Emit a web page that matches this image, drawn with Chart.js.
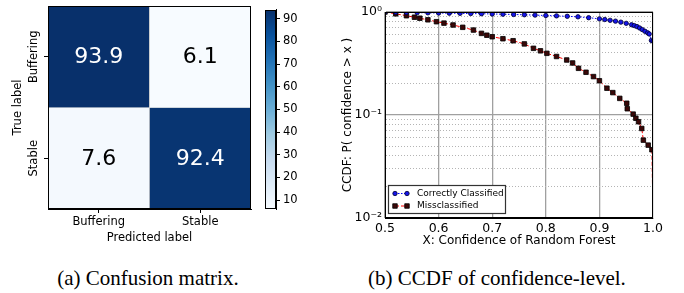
<!DOCTYPE html>
<html>
<head>
<meta charset="utf-8">
<script src="https://cdn.jsdelivr.net/npm/chart.js@4.4.1/dist/chart.umd.min.js"></script>
<style>
  html, body { margin: 0; padding: 0; background: #fff; }
  body { width: 684px; height: 293px; position: relative; overflow: hidden; }
  .box { position: absolute; }
  .cap { position: absolute; top: 266px; font-family: "Liberation Serif", "DejaVu Serif", serif; font-size: 21px; color: #000; white-space: nowrap; transform: translateX(-50%); }
</style>
</head>
<body>
<div class="box" style="left:0;top:0;width:258px;height:250px"><canvas id="cm"></canvas></div>
<div class="box" style="left:255px;top:0;width:55px;height:250px"><canvas id="cbar"></canvas></div>
<div class="box" style="left:340px;top:0;width:344px;height:250px"><canvas id="ccdf"></canvas></div>
<div class="cap" style="left:148px">(a) Confusion matrix.</div>
<div class="cap" style="left:497px">(b) CCDF of confidence-level.</div>
<script>
// ---- data ----
const predLabels = ['Buffering', 'Stable'];
const trueLabels = ['Buffering', 'Stable'];
const rowBuffering = [93.9, 6.1];
const rowStable = [7.6, 92.4];
const cbarMin = 6.1, cbarMax = 93.9;
const cbarTicks = [10, 20, 30, 40, 50, 60, 70, 80, 90];

const xTicks = [0.5, 0.6, 0.7, 0.8, 0.9, 1.0];
const correctX = [0.50, 0.52, 0.54, 0.56, 0.58, 0.60, 0.62, 0.64, 0.66, 0.68, 0.70, 0.72, 0.74, 0.76, 0.78,
  0.80, 0.82, 0.84, 0.86, 0.88, 0.90, 0.91, 0.92, 0.93, 0.94, 0.95, 0.96, 0.965, 0.97, 0.975, 0.98, 0.985,
  0.99, 0.993, 0.997, 1.0, 1.0];
const correctY = [1.00, 0.995, 0.99, 0.986, 0.982, 0.978, 0.974, 0.970, 0.966, 0.962, 0.957, 0.952, 0.946, 0.940, 0.933,
  0.925, 0.917, 0.908, 0.898, 0.880, 0.858, 0.845, 0.830, 0.815, 0.797, 0.776, 0.752, 0.738, 0.722, 0.700, 0.675, 0.650,
  0.628, 0.612, 0.530, 0.522, 0.01];
const missX = [0.50, 0.52, 0.54, 0.555, 0.565, 0.58, 0.596, 0.61, 0.627, 0.645, 0.665, 0.68, 0.69, 0.70, 0.72,
  0.739, 0.76, 0.777, 0.79, 0.802, 0.82, 0.839, 0.85, 0.861, 0.875, 0.889, 0.90, 0.914, 0.925, 0.938, 0.951,
  0.952, 0.963, 0.968, 0.973, 0.979, 0.982, 0.991, 0.998, 1.0];
const missY = [1.00, 0.96, 0.92, 0.89, 0.87, 0.84, 0.805, 0.78, 0.748, 0.71, 0.668, 0.62, 0.595, 0.575, 0.55,
  0.526, 0.49, 0.444, 0.42, 0.397, 0.37, 0.342, 0.32, 0.284, 0.26, 0.236, 0.215, 0.182, 0.165, 0.145, 0.13,
  0.115, 0.102, 0.093, 0.086, 0.074, 0.057, 0.051, 0.046, 0.01];

// ---- helpers ----
const blueStops = ['#f7fbff', '#deebf7', '#c6dbef', '#9ecae1', '#6baed6', '#4292c6', '#2171b5', '#08519c', '#08306b'];
function hexRgb(h) { return [1, 3, 5].map(i => parseInt(h.substr(i, 2), 16)); }
function blues(v) {
  let t = (v - cbarMin) / (cbarMax - cbarMin);
  t = Math.max(0, Math.min(1, t)) * (blueStops.length - 1);
  const i = Math.min(Math.floor(t), blueStops.length - 2), f = t - i;
  const a = hexRgb(blueStops[i]), b = hexRgb(blueStops[i + 1]);
  return 'rgb(' + a.map((c, k) => Math.round(c + (b[k] - c) * f)).join(',') + ')';
}
const sansFont = '"DejaVu Sans", Verdana, sans-serif';

// black box round the plot area, like matplotlib
const frame = {
  id: 'frame',
  afterDraw(chart) {
    const { ctx, chartArea: a } = chart;
    ctx.save();
    ctx.strokeStyle = '#000';
    ctx.lineWidth = 1;
    ctx.strokeRect(Math.round(a.left) + 0.5, Math.round(a.top) + 0.5, Math.round(a.right - a.left) - 1, Math.round(a.bottom - a.top) - 1);
    ctx.restore();
  }
};

// ---- confusion matrix ----
const cellText = {
  id: 'cellText',
  afterDatasetsDraw(chart) {
    const { ctx } = chart;
    const rows = [rowBuffering, rowStable];
    ctx.save();
    ctx.font = '22px ' + sansFont;
    ctx.textAlign = 'center';
    ctx.textBaseline = 'middle';
    chart.data.datasets.forEach((ds, di) => {
      chart.getDatasetMeta(di).data.forEach((bar, i) => {
        const v = rows[di][i];
        ctx.fillStyle = v > 50 ? '#fff' : '#000';
        ctx.fillText(v.toFixed(1), bar.x, (bar.y + bar.base) / 2 + 1);
      });
    });
    // row labels, rotated
    const y = chart.scales.y;
    ctx.font = '11.5px ' + sansFont;
    ctx.fillStyle = '#000';
    ctx.textBaseline = 'bottom';
    [[1.5, trueLabels[0]], [0.5, trueLabels[1]]].forEach(([v, t]) => {
      ctx.save();
      ctx.translate(chart.chartArea.left - 8, y.getPixelForValue(v));
      ctx.rotate(-Math.PI / 2);
      ctx.fillText(t, 0, 0);
      ctx.restore();
    });
    ctx.restore();
  }
};

new Chart(document.getElementById('cm'), {
  type: 'bar',
  data: {
    labels: predLabels,
    datasets: [
      { label: trueLabels[0], data: rowBuffering.map(() => [1, 2]), backgroundColor: rowBuffering.map(blues) },
      { label: trueLabels[1], data: rowStable.map(() => [0, 1]), backgroundColor: rowStable.map(blues) }
    ]
  },
  options: {
    responsive: true,
    maintainAspectRatio: false,
    animation: false,
    layout: { padding: { top: 6, right: 7, left: 0, bottom: 0 } },
    datasets: { bar: { grouped: false, barPercentage: 1, categoryPercentage: 1, borderColor: '#c8c8c8', borderWidth: 0.6 } },
    plugins: { legend: { display: false }, tooltip: { enabled: false } },
    scales: {
      x: {
        grid: { offset: false, drawOnChartArea: false, tickLength: 4, color: '#000' },
        border: { color: '#000' },
        ticks: { color: '#000', padding: 2, font: { family: sansFont, size: 11.5 } },
        title: { display: true, text: 'Predicted label', color: '#000', padding: { top: 0, bottom: 5 }, font: { family: sansFont, size: 11.5 } },
        afterFit: s => { s.height = 41; }
      },
      y: {
        min: 0, max: 2,
        afterBuildTicks: s => { s.ticks = [{ value: 0.5 }, { value: 1.5 }]; },
        grid: { drawOnChartArea: false, tickLength: 4, color: '#000' },
        border: { color: '#000' },
        ticks: { display: false },
        title: { display: true, text: 'True label', color: '#000', padding: { top: 11, bottom: 0 }, font: { family: sansFont, size: 11.5 } },
        afterFit: s => { s.width = 48; }
      }
    }
  },
  plugins: [cellText, frame]
});

// ---- colorbar ----
new Chart(document.getElementById('cbar'), {
  type: 'bar',
  data: {
    labels: [''],
    datasets: [{
      data: [[cbarMin, cbarMax]],
      backgroundColor: c => {
        const a = c.chart.chartArea;
        if (!a) return blueStops[4];
        const g = c.chart.ctx.createLinearGradient(0, a.bottom, 0, a.top);
        blueStops.forEach((s, i) => g.addColorStop(i / (blueStops.length - 1), s));
        return g;
      },
      barPercentage: 1, categoryPercentage: 1
    }]
  },
  options: {
    responsive: true,
    maintainAspectRatio: false,
    animation: false,
    layout: { padding: { top: 6, right: 0, left: 10, bottom: 41 } },
    plugins: { legend: { display: false }, tooltip: { enabled: false } },
    scales: {
      x: { display: false },
      y: {
        position: 'right',
        min: cbarMin, max: cbarMax,
        afterBuildTicks: s => { s.ticks = cbarTicks.map(v => ({ value: v })); },
        grid: { drawOnChartArea: false, tickLength: 4, color: '#000' },
        border: { color: '#000' },
        ticks: { color: '#000', padding: 3, font: { family: sansFont, size: 11.5 } },
        afterFit: s => { s.width = 34; }
      }
    }
  },
  plugins: [frame]
});

// ---- CCDF ----
const yGrid = [];
[-2, -1].forEach(e => { for (let k = 1; k <= 9; k++) yGrid.push(Number((k * Math.pow(10, e)).toPrecision(3))); });
yGrid.push(1);
const sup = { '0': '\u2070', '1': '\u00b9', '2': '\u00b2', '-': '\u207b' };
function isDecade(v) { const e = Math.log10(v); return Math.abs(e - Math.round(e)) < 1e-9; }

// legend box in the lower left corner of the plot
const legendBox = {
  id: 'legendBox',
  afterDraw(chart) {
    const { ctx, chartArea: a } = chart;
    const x0 = Math.round(a.left) + 3, y0 = Math.round(a.bottom) - 33, w = 117, h = 28;
    ctx.save();
    ctx.fillStyle = '#fff';
    ctx.fillRect(x0, y0, w, h);
    ctx.strokeStyle = '#333';
    ctx.lineWidth = 1.2;
    ctx.strokeRect(x0 + 0.5, y0 + 0.5, w, h);
    ctx.font = '9px ' + sansFont;
    ctx.textBaseline = 'middle';
    chart.data.datasets.forEach((ds, i) => {
      const cy = y0 + 8.5 + i * 12.5;
      ctx.strokeStyle = ds.borderColor;
      ctx.lineWidth = 1;
      ctx.setLineDash(ds.borderDash);
      ctx.beginPath(); ctx.moveTo(x0 + 7, cy); ctx.lineTo(x0 + 19, cy); ctx.stroke();
      ctx.setLineDash([]);
      ctx.fillStyle = ds.pointBackgroundColor;
      ctx.strokeStyle = ds.pointBorderColor;
      ctx.lineWidth = ds.pointBorderWidth;
      [x0 + 7, x0 + 19].forEach(px => {
        Chart.helpers.drawPoint(ctx, { pointStyle: ds.pointStyle, radius: ds.pointStyle === 'rect' ? 3.2 : 2.2, borderWidth: ds.pointBorderWidth }, px, cy);
      });
      ctx.fillStyle = '#000';
      ctx.fillText(ds.label, x0 + 29, cy);
    });
    ctx.restore();
  }
};

new Chart(document.getElementById('ccdf'), {
  type: 'scatter',
  data: {
    datasets: [
      {
        label: 'Correctly Classified',
        data: correctX.map((x, i) => ({ x, y: correctY[i] })),
        showLine: true,
        borderColor: '#0000ff', borderWidth: 1, borderDash: [1.5, 1.5],
        pointStyle: 'circle',
        pointRadius: c => (c.raw && c.raw.y <= 0.01 ? 0 : 2.2),
        pointBackgroundColor: '#1515e8', pointBorderColor: '#000030', pointBorderWidth: 0.8
      },
      {
        label: 'Missclassified',
        data: missX.map((x, i) => ({ x, y: missY[i] })),
        showLine: true,
        borderColor: '#ff0000', borderWidth: 1, borderDash: [4, 2],
        pointStyle: 'rect',
        pointRadius: c => (c.raw && c.raw.y <= 0.01 ? 0 : 3.2),
        pointBackgroundColor: '#3a0808', pointBorderColor: '#000', pointBorderWidth: 0.8
      }
    ]
  },
  options: {
    responsive: true,
    maintainAspectRatio: false,
    animation: false,
    layout: { padding: { top: 12, right: 31, left: 0, bottom: 0 } },
    plugins: { legend: { display: false }, tooltip: { enabled: false } },
    scales: {
      x: {
        type: 'linear', min: 0.5, max: 1.0,
        afterBuildTicks: s => { s.ticks = xTicks.map(v => ({ value: v })); },
        grid: { color: '#a0a0a0', lineWidth: 1.3, drawTicks: false },
        border: { color: '#000' },
        ticks: { color: '#000', padding: 3, font: { family: sansFont, size: 12.5 }, callback: v => v.toFixed(1) },
        title: { display: true, text: 'X: Confidence of Random Forest', color: '#000', padding: { top: 0, bottom: 2 }, font: { family: sansFont, size: 12 } },
        afterFit: s => { s.height = 32; }
      },
      y: {
        type: 'logarithmic', min: 0.01, max: 1,
        afterBuildTicks: s => { s.ticks = yGrid.map(v => ({ value: v, major: isDecade(v) })); },
        grid: {
          drawTicks: false,
          color: c => (c.tick && isDecade(c.tick.value) ? '#a0a0a0' : '#b4b4b4'),
          lineWidth: c => (c.tick && isDecade(c.tick.value) ? 1.3 : 1)
        },
        border: { color: '#000', dash: c => (c.tick && !isDecade(c.tick.value) ? [1, 2] : []) },
        ticks: {
          autoSkip: false, color: '#000', padding: 3, font: { family: sansFont, size: 12.5 },
          callback: v => (isDecade(v) ? '10' + String(Math.round(Math.log10(v))).split('').map(ch => sup[ch]).join('') : '')
        },
        title: { display: true, text: 'CCDF: P( confidence > x )', color: '#000', padding: { top: 1, bottom: 0 }, font: { family: sansFont, size: 12 } },
        afterFit: s => { s.width = 45; }
      }
    }
  },
  plugins: [frame, legendBox]
});
</script>
</body>
</html>
